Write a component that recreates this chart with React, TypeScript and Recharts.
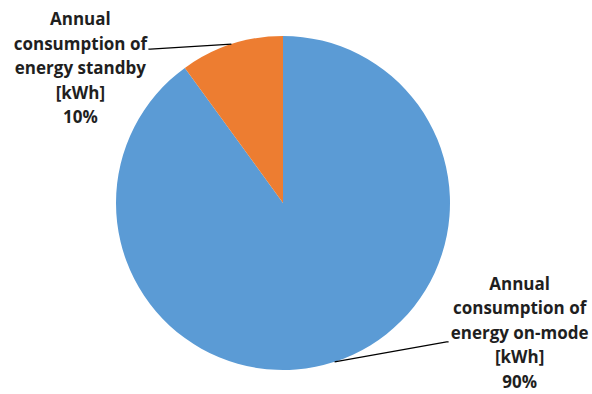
import { PieChart, Pie, Cell } from 'recharts'

const categories = [
  'Annual consumption of energy on-mode [kWh]',
  'Annual consumption of energy standby [kWh]',
]
const labelLines = [
  ['Annual', 'consumption of', 'energy on-mode', '[kWh]'],
  ['Annual', 'consumption of', 'energy standby', '[kWh]'],
]
const values = [90, 10]
const colors = ['#5B9BD5', '#ED7D31']

const data = categories.map((name, i) => ({ name, value: values[i] }))

// label placement relative to the slice's outer mid point
const layout = [
  { elbowX: 112, elbowY: -20, textX: 185, textY: -72 },
  { elbowX: -81, elbowY: 5, textX: -151, textY: -19 },
]

const RAD = Math.PI / 180

const renderLabel = (p: any) => {
  const { cx, cy, midAngle, outerRadius, index, percent } = p
  const mx = cx + outerRadius * Math.cos(-midAngle * RAD)
  const my = cy + outerRadius * Math.sin(-midAngle * RAD)
  const l = layout[index]
  const lines = [...labelLines[index], `${Math.round(percent * 100)}%`]
  return (
    <g>
      <polyline
        points={`${mx},${my} ${mx + l.elbowX},${my + l.elbowY} ${mx + l.elbowX + (l.elbowX > 0 ? 2 : -2)},${my + l.elbowY}`}
        fill="none"
        stroke="#000"
        strokeWidth={1.3}
      />
      <text
        x={mx + l.textX}
        y={my + l.textY}
        textAnchor="middle"
        fill="#1f1f1f"
        style={{ fontFamily: '"Open Sans", sans-serif', fontWeight: 700, fontSize: 17 }}
      >
        {lines.map((t, i) => (
          <tspan key={i} x={mx + l.textX} dy={i === 0 ? 0 : 24.5}>
            {t}
          </tspan>
        ))}
      </text>
    </g>
  )
}

export default function App() {
  return (
    <div style={{ position: 'fixed', left: 0, top: 0, width: 592, height: 394, background: '#fff' }}>
      <PieChart width={592} height={394} margin={{ top: 0, right: 0, bottom: 0, left: 0 }}>
        <Pie
          data={data}
          dataKey="value"
          nameKey="name"
          cx={283}
          cy={203}
          outerRadius={167}
          startAngle={90}
          endAngle={-270}
          stroke="none"
          label={renderLabel}
          labelLine={false}
          isAnimationActive={false}
        >
          {data.map((d, i) => (
            <Cell key={d.name} fill={colors[i]} />
          ))}
        </Pie>
      </PieChart>
    </div>
  )
}
